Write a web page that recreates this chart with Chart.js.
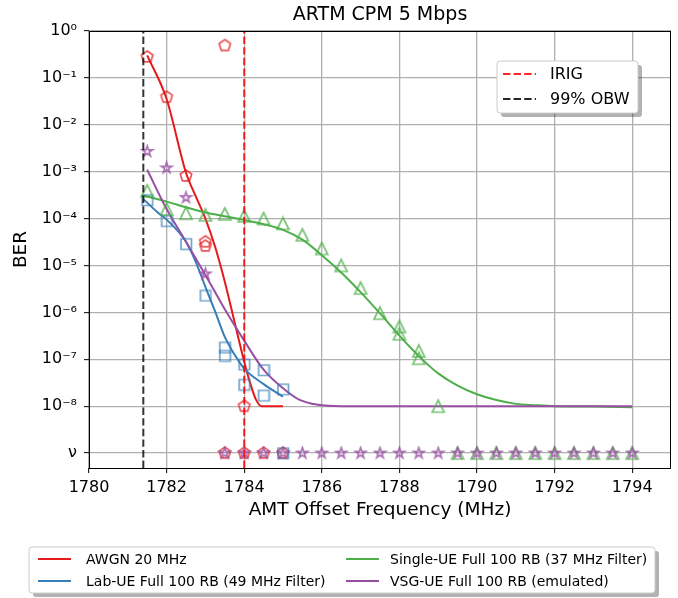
<!DOCTYPE html>
<html>
<head>
<meta charset="utf-8">
<script src="https://cdn.jsdelivr.net/npm/chart.js@4.4.1/dist/chart.umd.min.js"></script>
<style>
  html, body { margin: 0; padding: 0; background: #fff; }
  #wrap { width: 678px; height: 598px; }
</style>
</head>
<body>
<div id="wrap"><canvas id="chart" width="678" height="598"></canvas></div>
<script>
// ---- data ----
const titleText = 'ARTM CPM 5 Mbps';
const xTitle = 'AMT Offset Frequency (MHz)';
const yTitle = 'BER';

const xTicks = [1780, 1782, 1784, 1786, 1788, 1790, 1792, 1794];
const yTicks = [1e-9, 1e-8, 1e-7, 1e-6, 1e-5, 1e-4, 1e-3, 1e-2, 1e-1, 1];
const yTickLabels = ['ν', '10⁻⁸', '10⁻⁷', '10⁻⁶', '10⁻⁵', '10⁻⁴', '10⁻³', '10⁻²', '10⁻¹', '10⁰'];

const seriesNames = ['AWGN 20 MHz', 'Lab-UE Full 100 RB (49 MHz Filter)',
                     'Single-UE Full 100 RB (37 MHz Filter)', 'VSG-UE Full 100 RB (emulated)'];

// fitted curves
const awgnLineX = [1781.5, 1782, 1782.5, 1782.75, 1783, 1783.25, 1783.5, 1783.75, 1784, 1784.15, 1784.3, 1784.45, 1785];
const awgnLineY = [0.302, 0.0355, 9.5e-4, 3.0e-4, 1e-4, 2.5e-5, 4.5e-6, 6.3e-7, 8.9e-8, 3.2e-8, 1.4e-8, 1e-8, 1e-8];

const labLineX = [1781.4, 1781.75, 1782, 1782.5, 1782.75, 1783, 1783.25, 1783.5, 1783.75, 1784, 1784.5, 1785];
const labLineY = [2.6e-4, 1.4e-4, 9.5e-5, 3.2e-5, 1.2e-5, 3.5e-6, 1.05e-6, 3e-7, 1.26e-7, 6.3e-8, 2.95e-8, 1.6e-8];

const singleLineX = [1781.4, 1782, 1782.5, 1783, 1783.5, 1784, 1784.5, 1785, 1785.5, 1786, 1786.5, 1787, 1787.5,
                     1788, 1788.5, 1789, 1789.5, 1790, 1790.5, 1791, 1791.5, 1792, 1793, 1794];
const singleLineY = [3.1e-4, 2.3e-4, 1.74e-4, 1.35e-4, 1.12e-4, 9.3e-5, 7.6e-5, 5.75e-5, 3.55e-5, 1.66e-5, 7.1e-6, 2.7e-6, 9.5e-7,
                     3.2e-7, 1.17e-7, 5e-8, 2.75e-8, 1.8e-8, 1.35e-8, 1.12e-8, 1.05e-8, 1e-8, 9.8e-9, 9.5e-9];

const vsgLineX = [1781.5, 1782, 1782.5, 1783, 1783.5, 1784, 1784.5, 1785, 1785.4, 1785.9, 1786.5, 1790, 1794];
const vsgLineY = [1.1e-3, 1.6e-4, 3.2e-5, 6.3e-6, 1.17e-6, 2.5e-7, 6e-8, 2.4e-8, 1.4e-8, 1.07e-8, 1e-8, 1e-8, 1e-8];

// measured points (1e-9 = "ν", no errors seen)
const awgnPtX = [1781.5, 1782, 1782.5, 1783, 1783, 1783.5, 1784, 1783.5, 1784, 1784.5, 1785];
const awgnPtY = [0.28, 0.039, 8.1e-4, 3.2e-5, 2.6e-5, 0.49, 1e-8, 1e-9, 1e-9, 1e-9, 1e-9];

const labPtX = [1781.5, 1782, 1782.5, 1783, 1783.5, 1783.5, 1784, 1784, 1784.5, 1784.5, 1785, 1785];
const labPtY = [2.5e-4, 9e-5, 2.9e-5, 2.3e-6, 1.8e-7, 1.2e-7, 7.8e-8, 2.9e-8, 5.9e-8, 1.7e-8, 2.3e-8, 1e-9];

const singlePtX = [1781.5, 1782, 1782.5, 1783, 1783.5, 1784, 1784.5, 1785, 1785.5, 1786, 1786.5, 1787, 1787.5,
                   1788, 1788, 1788.5, 1788.5, 1789, 1789.5, 1790, 1790.5, 1791, 1791.5, 1792, 1792.5, 1793, 1793.5, 1794];
const singlePtY = [3.9e-4, 1.6e-4, 1.3e-4, 1.2e-4, 1.26e-4, 1.14e-4, 1e-4, 7.9e-5, 4.5e-5, 2.3e-5, 1e-5, 3.3e-6, 9.6e-7,
                   5e-7, 3.5e-7, 1.5e-7, 1.05e-7, 1e-8, 1e-9, 1e-9, 1e-9, 1e-9, 1e-9, 1e-9, 1e-9, 1e-9, 1e-9, 1e-9];

const vsgPtX = [1781.5, 1782, 1782.5, 1783, 1783.5, 1784, 1784.5, 1785, 1785.5, 1786, 1786.5, 1787, 1787.5,
                1788, 1788.5, 1789, 1789.5, 1790, 1790.5, 1791, 1791.5, 1792, 1792.5, 1793, 1793.5, 1794];
const vsgPtY = [2.7e-3, 1.2e-3, 2.8e-4, 6.6e-6, 1e-9, 1e-9, 1e-9, 1e-9, 1e-9, 1e-9, 1e-9, 1e-9, 1e-9,
                1e-9, 1e-9, 1e-9, 1e-9, 1e-9, 1e-9, 1e-9, 1e-9, 1e-9, 1e-9, 1e-9, 1e-9, 1e-9];

const irigX = 1784;   // IRIG
const obwX = 1781.4;  // 99% OBW

const xMin = 1780, xMax = 1795;
const yMin = Math.pow(10, -9.318), yMax = 1;

// colours (Set1-like)
const RED = '#e41a1c', BLUE = '#377eb8', GREEN = '#4daf4a', PURPLE = '#984ea3';

function pts(xs, ys) {
    return xs.map((x, i) => ({ x: x, y: ys[i] }));
}

function alpha(hex, a) {
    const n = parseInt(hex.slice(1), 16);
    return `rgba(${(n >> 16) & 255},${(n >> 8) & 255},${n & 255},${a})`;
}

// hollow marker images, since chart.js has no pentagon / 5-point star
function marker(shape, color, size) {
    const s = size + 4;
    const c = document.createElement('canvas');
    c.width = s; c.height = s;
    const g = c.getContext('2d');
    const cx = s / 2, cy = s / 2, r = size / 2;
    g.strokeStyle = color;
    g.lineWidth = 1.7;
    g.beginPath();
    if (shape === 'square') {
        g.rect(cx - r, cy - r, 2 * r, 2 * r);
    } else if (shape === 'triangle') {
        g.moveTo(cx, cy - r);
        g.lineTo(cx - r, cy + r);
        g.lineTo(cx + r, cy + r);
    } else if (shape === 'pentagon') {
        for (let k = 0; k < 5; k++) {
            const a = -Math.PI / 2 + k * 2 * Math.PI / 5;
            g.lineTo(cx + r * Math.cos(a), cy + r * Math.sin(a));
        }
    } else if (shape === 'star') {
        for (let k = 0; k < 10; k++) {
            const a = -Math.PI / 2 + k * Math.PI / 5;
            const rr = k % 2 === 0 ? r : r * 0.38;
            g.lineTo(cx + rr * Math.cos(a), cy + rr * Math.sin(a));
        }
    }
    g.closePath();
    g.stroke();
    return c;
}

function lineSet(label, xs, ys, color) {
    return {
        type: 'line', label: label, data: pts(xs, ys),
        borderColor: color, borderWidth: 2, pointRadius: 0,
        cubicInterpolationMode: 'monotone', fill: false
    };
}

function markSet(label, xs, ys, img) {
    return {
        type: 'scatter', label: label, data: pts(xs, ys),
        pointStyle: img, pointRadius: 6, showLine: false
    };
}

function vline(label, x, color) {
    return {
        type: 'line', label: label, data: [{ x: x, y: yMin }, { x: x, y: yMax }],
        borderColor: color, borderWidth: 2, borderDash: [7.4, 3.2], pointRadius: 0, fill: false
    };
}

const FONT = 'DejaVu Sans';

function roundRect(ctx, x, y, w, h, r) {
    ctx.beginPath();
    ctx.moveTo(x + r, y);
    ctx.arcTo(x + w, y, x + w, y + h, r);
    ctx.arcTo(x + w, y + h, x, y + h, r);
    ctx.arcTo(x, y + h, x, y, r);
    ctx.arcTo(x, y, x + w, y, r);
    ctx.closePath();
}

function legendBox(ctx, x, y, w, h) {
    ctx.fillStyle = 'rgba(0,0,0,0.3)';
    roundRect(ctx, x + 4, y + 4, w, h, 3);
    ctx.fill();
    ctx.fillStyle = '#fff';
    roundRect(ctx, x, y, w, h, 3);
    ctx.fill();
    ctx.strokeStyle = '#cccccc';
    ctx.lineWidth = 1;
    ctx.stroke();
}

// title, frame and both legends
const decor = {
    id: 'decor',
    afterDraw(chart) {
        const { ctx, chartArea: a } = chart;
        ctx.save();
        ctx.strokeStyle = '#000';
        ctx.lineWidth = 1;
        ctx.strokeRect(Math.round(a.left) + 0.5, Math.round(a.top) + 0.5,
                       Math.round(a.right - a.left) - 1, Math.round(a.bottom - a.top));

        ctx.fillStyle = '#000';
        ctx.font = `19px "${FONT}"`;
        ctx.textAlign = 'center';
        ctx.textBaseline = 'middle';
        ctx.fillText(titleText, (a.left + a.right) / 2, 15);

        // top right legend
        legendBox(ctx, 497, 61, 141, 52);
        ctx.font = `16px "${FONT}"`;
        ctx.textAlign = 'left';
        const dashed = [['IRIG', 'rgba(255,0,0,0.85)', 74], ['99% OBW', 'rgba(0,0,0,0.85)', 99]];
        dashed.forEach(([t, c, y]) => {
            ctx.strokeStyle = c;
            ctx.lineWidth = 2;
            ctx.setLineDash([7.4, 3.2]);
            ctx.beginPath();
            ctx.moveTo(503, y);
            ctx.lineTo(536, y);
            ctx.stroke();
            ctx.setLineDash([]);
            ctx.fillStyle = '#000';
            ctx.fillText(t, 550, y + 1);
        });

        // bottom legend, two columns
        legendBox(ctx, 29, 547, 626, 46);
        ctx.font = `14px "${FONT}"`;
        const cols = [[38, 86], [346, 390]];
        const rows = [559, 581];
        const colors = [RED, BLUE, GREEN, PURPLE];
        seriesNames.forEach((name, i) => {
            const col = cols[Math.floor(i / 2)], y = rows[i % 2];
            ctx.strokeStyle = colors[i];
            ctx.lineWidth = 2;
            ctx.beginPath();
            ctx.moveTo(col[0], y);
            ctx.lineTo(col[0] + 33, y);
            ctx.stroke();
            ctx.fillStyle = '#000';
            ctx.fillText(name, col[1], y + 1);
        });
        ctx.restore();
    }
};

Chart.defaults.font.family = FONT;
Chart.defaults.color = '#000';

new Chart(document.getElementById('chart'), {
    type: 'scatter',
    data: {
        datasets: [
            vline('IRIG', irigX, 'rgba(255,0,0,0.85)'),
            vline('99% OBW', obwX, 'rgba(0,0,0,0.8)'),
            markSet(seriesNames[3], vsgPtX, vsgPtY, marker('star', alpha(PURPLE, 0.8), 11)),
            markSet(seriesNames[2], singlePtX, singlePtY, marker('triangle', alpha(GREEN, 0.75), 12)),
            markSet(seriesNames[1], labPtX, labPtY, marker('square', alpha(BLUE, 0.7), 10.5)),
            markSet(seriesNames[0], awgnPtX, awgnPtY, marker('pentagon', alpha(RED, 0.75), 12)),
            lineSet(seriesNames[3], vsgLineX, vsgLineY, PURPLE),
            lineSet(seriesNames[2], singleLineX, singleLineY, GREEN),
            lineSet(seriesNames[1], labLineX, labLineY, BLUE),
            lineSet(seriesNames[0], awgnLineX, awgnLineY, RED)
        ]
    },
    options: {
        responsive: false,
        animation: false,
        devicePixelRatio: 1,
        events: [],
        layout: { padding: { top: 31, right: 3, bottom: 59, left: 0 } },
        plugins: {
            legend: { display: false },
            tooltip: { enabled: false },
            title: { display: false }
        },
        scales: {
            x: {
                type: 'linear', min: xMin, max: xMax,
                afterBuildTicks: s => { s.ticks = xTicks.map(v => ({ value: v })); },
                afterFit: s => { s.height = 71; },
                ticks: { font: { size: 16 }, color: '#000', padding: 5, maxRotation: 0, callback: v => String(v) },
                grid: { color: '#b0b0b0', lineWidth: 1.3, tickLength: 5, tickColor: '#000', tickWidth: 1 },
                border: { display: false },
                title: { display: true, text: xTitle, font: { size: 18.5 }, color: '#000', padding: { top: 0, bottom: 18 } }
            },
            y: {
                type: 'logarithmic', min: yMin, max: yMax,
                afterBuildTicks: s => { s.ticks = yTicks.map(v => ({ value: v })); },
                afterFit: s => { s.width = 89; },
                ticks: {
                    font: { size: 16 }, color: '#000', padding: 7,
                    callback: v => {
                        const i = yTicks.findIndex(t => Math.abs(Math.log10(t) - Math.log10(v)) < 1e-6);
                        return i >= 0 ? yTickLabels[i] : '';
                    }
                },
                grid: { color: '#b0b0b0', lineWidth: 1.3, tickLength: 5, tickColor: '#000', tickWidth: 1 },
                border: { display: false },
                title: { display: true, text: yTitle, font: { size: 18.5 }, color: '#000', padding: { top: 10, bottom: 0 } }
            }
        }
    },
    plugins: [decor]
});
</script>
</body>
</html>
